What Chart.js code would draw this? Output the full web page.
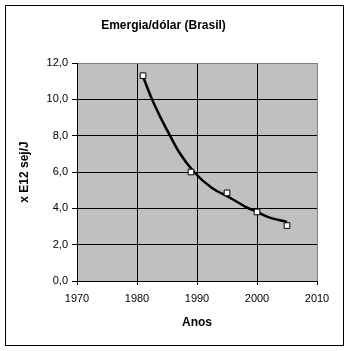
<!DOCTYPE html>
<html>
<head>
<meta charset="utf-8">
<script src="https://cdn.jsdelivr.net/npm/chart.js@4/dist/chart.umd.min.js"></script>
<style>
  html, body { margin: 0; padding: 0; background: #fff; }
  #wrap { width: 349px; height: 351px; }
</style>
</head>
<body>
<div id="wrap"><canvas id="chart" width="349" height="351"></canvas></div>
<script>
// Emergia/dólar (Brasil)
const years = [1981, 1989, 1995, 2000, 2005];
const emergy = [11.3, 6.0, 4.85, 3.8, 3.05];

// trend curve, sampled along the drawn line
const trendYears = [1981, 1982.5, 1984, 1985.5, 1987, 1989.5, 1992.5, 1995.3, 1998, 2000, 2002, 2005];
const trendValues = [11.26, 10.0, 8.95, 8.0, 7.1, 6.0, 5.12, 4.62, 4.1, 3.8, 3.5, 3.25];

const xTicks = [1970, 1980, 1990, 2000, 2010];
const yTicks = [0, 2, 4, 6, 8, 10, 12];

const FONT = 'Liberation Sans, Arial, sans-serif';

// gray plot area + outer frame
const backdrop = {
    id: 'backdrop',
    beforeDraw(chart) {
        const { ctx, chartArea: a } = chart;
        ctx.save();
        ctx.fillStyle = '#c0c0c0';
        ctx.fillRect(a.left, a.top, a.right - a.left, a.bottom - a.top);
        ctx.restore();
    },
    afterDraw(chart) {
        const ctx = chart.ctx;
        ctx.save();
        ctx.strokeStyle = '#000';
        ctx.lineWidth = 1;
        ctx.strokeRect(5.5, 5.5, 338, 340);
        ctx.restore();
    }
};

const points = years.map((y, i) => ({ x: y, y: emergy[i] }));
const trend = trendYears.map((y, i) => ({ x: y, y: trendValues[i] }));

new Chart(document.getElementById('chart'), {
    type: 'scatter',
    data: {
        datasets: [
            {
                label: 'Emergia/dólar',
                data: points,
                pointStyle: 'rect',
                pointRadius: 4,
                pointBackgroundColor: '#fff',
                pointBorderColor: '#000',
                pointBorderWidth: 1,
                showLine: false
            },
            {
                label: 'Tendência',
                data: trend,
                showLine: true,
                borderColor: '#000',
                borderWidth: 2.5,
                pointRadius: 0,
                cubicInterpolationMode: 'monotone'
            }
        ]
    },
    options: {
        responsive: false,
        animation: false,
        layout: { padding: { left: 10, right: 32, top: 5, bottom: 10 } },
        plugins: {
            legend: { display: false },
            tooltip: { enabled: false },
            title: {
                display: true,
                text: 'Emergia/dólar (Brasil)',
                color: '#000',
                font: { family: FONT, size: 12, weight: 'bold' },
                padding: { top: 13, bottom: 30.6 }
            }
        },
        scales: {
            x: {
                type: 'linear',
                min: xTicks[0],
                max: xTicks[xTicks.length - 1],
                afterBuildTicks: (s) => { s.ticks = xTicks.map(v => ({ value: v })); },
                afterFit: (s) => { s.height = 60; },
                ticks: {
                    color: '#000',
                    font: { family: FONT, size: 11 },
                    padding: 7,
                    maxRotation: 0,
                    callback: (v) => String(v)
                },
                grid: {
                    color: (c) => c.tick && c.tick.value === 2010 ? '#808080' : '#000',
                    tickColor: '#000',
                    tickLength: 4,
                    lineWidth: 1
                },
                border: { color: '#000', width: 1 },
                title: {
                    display: true,
                    text: 'Anos',
                    color: '#000',
                    font: { family: FONT, size: 12, weight: 'bold' },
                    padding: { top: 0, bottom: 11.5 }
                }
            },
            y: {
                min: yTicks[0],
                max: yTicks[yTicks.length - 1],
                afterBuildTicks: (s) => { s.ticks = yTicks.map(v => ({ value: v })); },
                afterFit: (s) => { s.width = 67; },
                ticks: {
                    color: '#000',
                    font: { family: FONT, size: 11 },
                    padding: 4,
                    callback: (v) => v.toFixed(1).replace('.', ',')
                },
                grid: {
                    color: (c) => c.tick && c.tick.value === 12 ? '#808080' : '#000',
                    tickColor: '#000',
                    tickLength: 5,
                    lineWidth: 1
                },
                border: { color: '#000', width: 1 },
                title: {
                    display: true,
                    text: 'x E12 sej/J',
                    color: '#000',
                    font: { family: FONT, size: 12, weight: 'bold' },
                    padding: { top: 7.8, bottom: 0 }
                }
            }
        }
    },
    plugins: [backdrop]
});
</script>
</body>
</html>
